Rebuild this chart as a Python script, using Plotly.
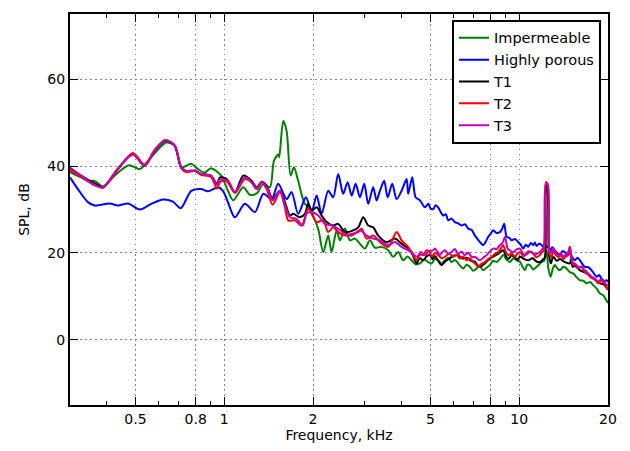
import plotly.graph_objects as go

# ---------------- data (frequency in kHz, SPL in dB) ----------------
f_imp = [0.300,0.302,0.327,0.345,0.364,0.388,0.425,0.475,0.517,0.558,0.636,0.679,0.715,0.773,0.814,0.858,0.902,0.977,
         1.029,1.073,1.160,1.222,1.288,1.356,1.428,1.474,1.524,1.536,1.585,1.627,1.679,1.723,1.781,1.877,1.952,
         2.003,2.083,2.166,2.252,2.312,2.404,2.467,2.565,2.668,2.774,2.884,2.999,3.118,3.242,3.417,3.597,3.741,3.889,
         4.043,4.18,4.318,4.45,4.607,4.76,4.915,5.047,5.18,5.313,5.45,5.600,5.75,5.900,6.05,6.211,6.33,6.458,6.63,
         6.806,6.98,7.171,7.36,7.551,7.75,7.954,8.16,8.381,8.60,8.824,9.07,9.302,9.55,9.800,10.06,10.25,10.45,10.66,
         10.87,11.16,11.46,11.75,11.91,12.15,12.38,12.55,12.78,13.0,13.21,13.45,13.74,14.1,14.48,14.85,15.24,15.6,
         16.06,16.5,16.92,17.4,17.82,18.3,18.77,19.3,19.87,20.0]
spl_imp = [38.8,38.5,37.4,36.6,36.6,35.3,37.8,40.2,39.3,41.6,45.4,44.7,39.7,40.5,39.3,38.5,39.5,37.8,
           34.3,32.1,35.1,33.4,33.7,35.9,35.1,41.2,42.7,42.0,50.4,48.1,37.8,39.7,36.6,31.3,30.5,
           28.6,25.5,20.2,24.0,20.2,25.2,22.9,25.6,22.9,23.3,22.1,21.0,22.9,21.2,21.4,20.6,19.1,20.2,
           18.3,19.2,18.3,17.4,17.6,18.5,17.9,17.6,18.6,18.3,17.5,18.3,18.9,17.9,18.4,17.6,16.9,16.4,17.3,
           16.8,15.9,16.4,17.0,16.0,16.6,17.2,18.2,17.9,18.6,19.5,18.4,17.9,18.8,18.3,17.9,16.9,16.0,17.3,
           17.2,16.2,16.8,17.5,17.9,18.2,20.6,16.5,14.5,16.4,17.2,16.5,16.0,16.8,16.4,15.6,15.3,14.5,
           13.7,13.6,13.0,13.3,12.6,11.8,10.7,10.2,8.8,8.5]

f_por = [0.300,0.319,0.345,0.364,0.409,0.436,0.472,0.517,0.566,0.620,0.670,0.712,0.773,0.834,0.880,0.952,0.990,
         1.029,1.087,1.175,1.271,1.356,1.448,1.524,1.627,1.692,1.781,1.892,1.978,2.057,2.139,2.252,2.341,2.434,
         2.531,2.620,2.704,2.789,2.884,2.983,3.077,3.199,3.285,3.371,3.486,3.580,3.711,3.841,3.993,4.152,4.204,
         4.338,4.455,4.607,4.790,4.915,5.01,5.110,5.21,5.313,5.42,5.525,5.64,5.746,5.90,6.053,6.21,6.378,6.55,
         6.716,6.90,7.076,7.22,7.358,7.551,7.70,7.849,8.00,8.162,8.38,8.600,8.75,8.894,9.067,9.25,9.424,9.67,
         9.922,10.10,10.32,10.52,10.73,10.95,11.16,11.30,11.46,11.70,11.91,12.22,12.45,12.71,12.95,13.21,13.45,
         13.74,14.0,14.29,14.55,14.85,15.15,15.45,15.75,16.06,16.40,16.70,17.15,17.60,17.95,18.30,18.65,19.02,
         19.40,19.78,20.0]
spl_por = [37.4,34.7,31.7,30.9,31.4,30.9,31.4,30.0,31.3,32.3,31.8,30.3,34.3,34.7,34.2,35.1,34.3,
           31.7,28.2,31.3,29.4,33.6,32.4,35.9,32.4,34.0,29.0,32.8,29.4,33.2,29.0,34.3,32.8,38.2,
           33.6,36.3,33.2,35.9,32.8,35.9,31.3,35.1,32.1,34.3,36.6,32.8,35.9,32.4,34.3,37.0,33.6,
           37.4,32.8,32.1,30.5,31.3,30.2,30.1,31.0,30.5,29.4,28.6,28.9,27.5,27.9,27.1,26.8,26.3,26.6,
           25.6,25.3,24.0,23.2,22.5,21.8,22.6,23.7,24.4,25.2,24.6,24.8,25.5,26.7,23.7,23.5,22.9,23.2,
           22.5,22.0,21.0,21.9,21.4,22.3,21.8,22.4,21.6,22.2,21.8,21.0,21.6,20.6,21.3,20.6,20.0,
           19.5,20.4,20.2,19.5,19.8,19.0,18.3,18.9,18.3,17.4,16.8,16.7,16.0,15.2,14.5,14.9,14.1,
           13.5,13.7,13.3]

f_t1 = [0.300,0.327,0.364,0.388,0.436,0.490,0.537,0.581,0.631,0.679,0.715,0.743,0.794,0.834,0.902,0.945,0.967,
        1.019,1.087,1.160,1.238,1.288,1.339,1.392,1.459,1.545,1.606,1.670,1.713,1.805,1.877,1.926,1.978,2.057,
        2.139,2.224,2.341,2.434,2.565,2.738,2.846,2.960,3.077,3.199,3.327,3.552,3.790,3.993,4.204,4.35,4.490,
        4.60,4.727,4.85,4.980,5.08,5.177,5.31,5.457,5.60,5.746,5.97,6.211,6.42,6.632,6.85,7.076,7.22,7.358,
        7.65,7.954,8.20,8.486,8.65,8.824,9.00,9.180,9.42,9.670,9.85,10.06,10.40,10.73,11.10,11.45,11.75,12.05,
        12.22,12.34,12.46,12.62,12.80,13.04,13.40,13.74,14.20,14.85,15.00,15.17,15.45,16.10,16.92,17.80,18.77,
        19.30,19.87,20.0]
spl_t1 = [39.6,37.8,36.0,35.1,39.4,42.8,40.1,43.5,45.8,44.7,39.7,38.9,38.9,38.2,37.8,35.9,37.4,
          37.0,34.0,37.8,36.6,35.1,36.4,35.5,32.4,34.3,31.7,28.6,29.0,28.2,29.0,31.3,29.8,30.5,
          28.6,27.1,26.3,26.7,24.8,25.2,25.9,28.2,26.3,25.9,24.0,22.5,23.3,22.1,21.0,19.6,17.6,
          18.8,18.3,19.2,19.5,18.6,19.3,18.2,17.2,18.0,18.5,19.3,19.5,18.7,18.9,18.2,18.0,17.2,16.8,
          17.6,18.7,19.2,19.8,20.3,20.6,19.4,18.6,19.4,19.0,18.4,19.1,18.6,18.3,18.8,18.0,17.9,18.5,
          19.0,35.5,35.0,19.5,17.6,19.1,18.2,18.6,18.0,17.6,18.8,16.8,17.0,16.0,15.3,14.2,13.0,
          12.8,11.8,11.6]

f_t2 = [0.300,0.327,0.364,0.388,0.436,0.490,0.537,0.581,0.631,0.679,0.715,0.743,0.794,0.834,0.902,0.945,0.967,
        1.019,1.087,1.175,1.238,1.288,1.339,1.392,1.459,1.545,1.606,1.648,1.736,1.829,1.926,1.978,2.057,2.166,
        2.252,2.341,2.434,2.565,2.704,2.846,2.923,3.039,3.199,3.371,3.597,3.841,3.993,4.204,4.35,4.490,4.60,
        4.727,4.85,4.980,5.047,5.18,5.313,5.45,5.600,5.79,5.974,6.13,6.295,6.46,6.632,6.80,6.983,7.12,7.261,
        7.45,7.651,7.85,8.060,8.27,8.486,8.65,8.824,9.00,9.180,9.42,9.670,9.86,10.06,10.32,10.59,10.87,11.16,
        11.46,11.75,11.95,12.12,12.31,12.50,12.66,12.85,13.04,13.30,13.56,13.85,14.10,14.40,14.66,14.85,15.05,
        15.17,15.50,15.85,16.25,16.70,17.15,17.60,18.05,18.53,19.00,19.26,19.60,19.87,20.0]
spl_t2 = [39.0,37.5,35.6,35.0,39.2,43.0,40.3,43.8,46.0,44.8,39.5,38.6,38.9,38.0,37.5,34.8,36.3,
          36.5,33.8,37.0,36.2,34.7,36.2,34.7,31.1,34.0,30.5,27.5,27.5,26.3,30.1,29.0,27.1,27.5,
          24.8,25.9,24.8,24.0,24.4,24.8,25.6,23.3,24.0,22.5,21.4,24.8,22.9,21.4,19.8,18.3,19.6,
          19.5,20.6,20.2,19.1,20.0,19.5,18.8,19.1,19.9,19.1,19.6,18.7,19.2,18.3,18.8,17.9,17.4,16.8,
          17.5,17.9,18.6,19.1,19.8,20.2,21.0,21.8,20.3,19.5,19.9,19.1,19.8,20.2,19.3,19.7,20.3,19.8,
          19.0,19.5,20.2,20.5,36.3,35.5,19.8,19.0,20.5,19.6,19.0,19.5,18.6,19.2,19.5,21.4,18.6,
          17.5,17.3,16.5,16.8,15.6,15.0,14.2,14.0,13.0,13.8,13.2,12.6,11.8,11.5]

f_t3 = [0.300,0.327,0.364,0.388,0.436,0.490,0.537,0.581,0.631,0.679,0.715,0.743,0.794,0.834,0.902,0.945,0.967,
        1.029,1.087,1.175,1.251,1.288,1.339,1.406,1.459,1.545,1.606,1.670,1.759,1.844,1.902,1.978,2.083,2.195,
        2.312,2.434,2.565,2.704,2.884,3.039,3.199,3.371,3.597,3.790,3.993,4.204,4.35,4.490,4.64,4.790,4.95,
        5.110,5.177,5.28,5.384,5.49,5.600,5.75,5.900,6.05,6.211,6.38,6.545,6.72,6.896,7.12,7.358,7.55,7.752,
        7.95,8.162,8.38,8.600,8.78,8.941,9.138,9.34,9.544,9.80,10.06,10.25,10.45,10.73,11.02,11.40,11.75,11.95,
        12.12,12.31,12.50,12.66,12.85,13.04,13.30,13.56,13.85,14.10,14.40,14.66,14.85,15.05,15.17,15.50,15.85,
        16.25,16.70,17.15,17.60,18.05,18.53,19.00,19.26,19.60,19.87,20.0]
spl_t3 = [39.4,37.8,35.6,35.1,39.4,42.6,40.1,43.5,46.0,44.7,39.7,38.9,38.9,38.2,37.8,35.7,36.9,
          36.6,34.0,37.4,35.9,34.7,36.4,34.7,32.1,34.3,31.1,28.2,27.8,26.3,29.0,29.4,28.6,26.7,
          26.3,25.6,24.4,24.0,25.2,24.0,23.3,22.9,21.8,22.5,21.4,20.6,20.0,19.1,20.2,19.5,20.4,
          20.6,21.0,20.3,19.5,20.2,20.6,19.8,20.2,20.9,19.8,20.3,19.5,20.1,19.1,19.0,18.3,18.9,19.5,
          20.3,21.0,20.9,21.8,22.3,23.7,21.0,20.5,20.2,20.8,21.0,20.1,19.5,20.4,20.2,19.7,20.2,20.8,
          21.4,35.9,35.9,19.8,20.3,21.0,20.1,19.5,20.0,19.1,19.7,20.2,21.4,19.0,17.9,17.5,16.8,
          16.9,16.0,15.3,14.5,14.1,13.4,14.0,13.7,13.0,12.6,12.4]

series_names = ["Impermeable", "Highly porous", "T1", "T2", "T3"]
x_ticks = [0.5, 0.8, 1, 2, 5, 8, 10, 20]
x_tick_text = ["0.5", "0.8", "1", "2", "5", "8", "10", "20"]
x_minor = [0.3, 0.4, 0.6, 0.7, 0.9, 3, 4, 6, 7, 9]
y_ticks = [0, 20, 40, 60]

# ---------------- figure ----------------
colors = ["#008000", "#0000ff", "#000000", "#ff0000", "#bf00bf"]
xs = [f_imp, f_por, f_t1, f_t2, f_t3]
ys = [spl_imp, spl_por, spl_t1, spl_t2, spl_t3]

fig = go.Figure()
for name, c, x, y in zip(series_names, colors, xs, ys):
    fig.add_trace(go.Scatter(x=x, y=y, mode="lines", name=name,
                             line=dict(color=c, width=2, shape="spline", smoothing=0.8)))

FONT = "DejaVu Sans"
fig.update_layout(
    width=630, height=451,
    margin=dict(l=70, r=22, t=14, b=46),
    paper_bgcolor="white", plot_bgcolor="white",
    font=dict(family=FONT, size=14, color="black"),
    showlegend=True,
    legend=dict(x=0.987, y=0.985, xanchor="right", yanchor="top",
                bgcolor="white", bordercolor="black", borderwidth=2,
                font=dict(family=FONT, size=14.5, color="black"),
                tracegroupgap=0, itemwidth=30),
)
fig.update_xaxes(
    type="log", range=[-0.5228787, 1.30103],
    tickvals=x_ticks, ticktext=x_tick_text,
    ticks="inside", ticklen=8, tickwidth=1, tickcolor="black",
    showline=True, linewidth=2, linecolor="black", mirror="ticks",
    showgrid=True, gridcolor="#808080", gridwidth=1, griddash="1.5px,3.5px",
    minor=dict(tickvals=x_minor, ticks="inside", ticklen=4, tickwidth=1,
               tickcolor="black", showgrid=False),
    title=dict(text="Frequency, kHz", font=dict(family=FONT, size=14), standoff=0),
    tickfont=dict(family=FONT, size=14),
    zeroline=False,
)
fig.update_yaxes(
    range=[-15, 75], tickvals=y_ticks,
    ticks="inside", ticklen=8, tickwidth=1, tickcolor="black",
    showline=True, linewidth=2, linecolor="black", mirror="ticks",
    showgrid=True, gridcolor="#808080", gridwidth=1, griddash="1.5px,3.5px",
    title=dict(text="SPL, dB", font=dict(family=FONT, size=14), standoff=14),
    tickfont=dict(family=FONT, size=14),
    zeroline=False,
)

fig.write_html("out.html")
